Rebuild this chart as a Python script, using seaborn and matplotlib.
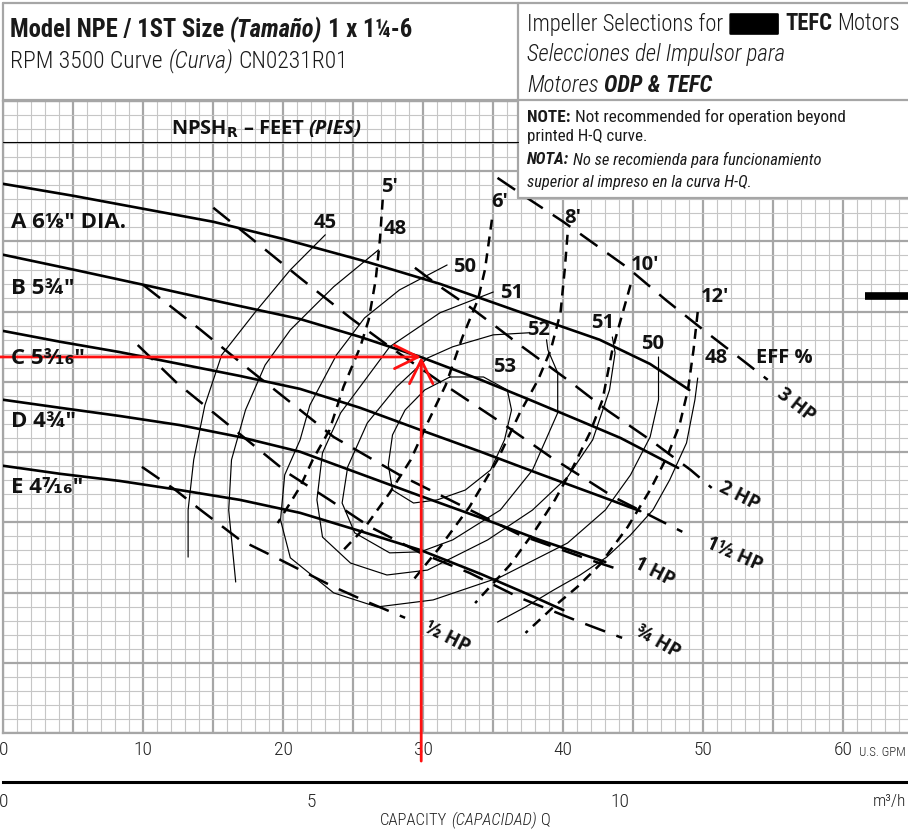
import numpy as np
import pandas as pd
import seaborn as sns
import matplotlib.pyplot as plt
from matplotlib.patches import Rectangle
from matplotlib.lines import Line2D
from matplotlib.ticker import MultipleLocator, FuncFormatter

# -----------------------------------------
# Data (Q in US GPM, H in ft)
# -----------------------------------------
a_q = [0, 5, 10, 15, 20, 25.7, 31.2, 36.9, 42.6, 46.2, 49.0]
a_h = [156.4, 153.0, 149.3, 145.6, 140.7, 134.5, 127.9, 119.9, 112.0, 105.1, 97.7]
b_q = [0, 5.1, 10.3, 15.5, 21.2, 25.5, 29.8, 34.1, 37.6, 41.2, 44.1, 48.2]
b_h = [136.2, 131.9, 127.4, 122.8, 117.9, 112.8, 107.1, 100.6, 94.9, 88.9, 84.0, 75.5]
c_q = [0, 4.1, 8.3, 12.6, 16.9, 21.2, 25.5, 29.8, 34.1, 38.3, 42.6, 45.5]
c_h = [114.5, 111.4, 108.5, 105.1, 101.7, 98.0, 92.6, 86.3, 80.1, 73.8, 67.5, 63.2]
d_q = [0, 4.1, 8.3, 12.6, 16.9, 21.2, 25.5, 29.8, 34.1, 38.3, 43.0]
d_h = [94.9, 92.6, 90.3, 87.7, 84.3, 80.1, 73.8, 67.5, 61.3, 55.0, 48.7]
e_q = [0, 4.1, 8.3, 12.6, 16.9, 21.2, 25.5, 29.8, 34.1, 37.6, 40.0]
e_h = [76.1, 73.8, 71.8, 69.2, 66.4, 62.7, 57.5, 52.1, 45.3, 39.3, 35.0]

# efficiency contours
eff45_q = [23.0, 20.5, 18.0, 15.6, 14.4, 13.6, 13.2, 13.2]
eff45_h = [141.9, 131.9, 119.9, 107.7, 93.4, 77.8, 63.5, 50.1]
eff48l_q = [26.8, 23.6, 20.5, 18.7, 17.3, 16.3, 16.1, 16.6]
eff48l_h = [137.6, 127.1, 114.8, 104.8, 92.0, 77.8, 63.5, 43.0]
eff48r_q = [49.6, 49.4, 48.8, 47.6, 46.4, 44.8, 43.1, 41.2, 39.3, 37.3, 35.3]
eff48r_h = [101.1, 94.9, 82.6, 72.1, 63.5, 56.4, 50.1, 45.0, 40.7, 35.9, 31.6]
eff50_q = [31.7, 28.3, 25.8, 23.8, 21.9, 21.2, 20.1, 19.8, 20.5, 23.6, 26.7, 30.7,
           35.5, 40.3, 43.0, 44.8, 46.2, 46.8, 46.8]
eff50_h = [133.3, 126.2, 118.2, 107.7, 93.4, 83.5, 73.5, 60.7, 49.9, 39.9, 35.9, 37.9,
           44.4, 54.1, 63.5, 73.5, 84.3, 94.9, 107.1]
eff51_q = [35.0, 31.2, 27.6, 26.0, 24.1, 22.8, 22.4, 22.8, 24.8, 27.4, 30.3, 34.6,
           37.8, 40.3, 42.1, 43.3, 43.7, 43.5]
eff51_h = [125.6, 119.7, 110.0, 101.4, 91.2, 79.8, 66.4, 55.8, 48.4, 45.0, 46.4, 55.0,
           63.5, 72.9, 83.5, 97.7, 108.3, 112.8]
eff52_q = [37.6, 35.0, 32.1, 30.3, 28.1, 26.0, 24.6, 24.2, 25.1, 27.6, 29.8, 32.1,
           35.5, 37.8, 39.6, 39.6, 38.9, 38.8]
eff52_h = [114.0, 113.4, 110.0, 106.8, 98.6, 88.3, 75.8, 65.5, 57.0, 51.3, 51.6, 55.0,
           63.5, 74.9, 91.2, 102.6, 109.1, 112.0]
eff53_q = [31.9, 34.3, 36.0, 36.3, 35.8, 34.8, 33.0, 31.0, 29.3, 27.8, 27.5, 27.8,
           28.7, 30.1, 31.9]
eff53_h = [101.4, 101.4, 97.7, 92.0, 83.5, 74.9, 69.2, 66.4, 65.5, 69.2, 76.4, 84.9,
           92.0, 97.7, 101.4]

# NPSHr curves
npsh5_q = [27.1, 26.9, 26.6, 26.1, 25.5, 24.3, 23.3, 22.1, 21.2, 19.6]
npsh5_h = [151.9, 140.5, 129.1, 117.7, 110.0, 98.6, 86.3, 77.8, 70.1, 59.8]
npsh6_q = [34.9, 34.4, 33.9, 32.8, 31.6, 30.3, 29.1, 27.6, 25.8, 24.1]
npsh6_h = [146.2, 131.9, 123.4, 112.8, 99.1, 88.3, 77.8, 68.4, 58.4, 51.3]
npsh8_q = [40.3, 40.1, 39.8, 39.1, 38.2, 36.9, 35.3, 33.3, 31.2, 29.1]
npsh8_h = [141.9, 131.9, 119.7, 109.1, 100.6, 91.2, 77.8, 64.4, 53.0, 42.7]
npsh10_q = [44.8, 44.2, 43.5, 42.8, 41.9, 40.7, 39.4, 38.0, 36.2, 33.7]
npsh10_h = [127.6, 119.1, 109.1, 94.9, 85.5, 75.8, 66.4, 57.8, 47.9, 37.0]
npsh12_q = [49.6, 49.3, 48.9, 48.3, 47.4, 46.2, 44.6, 42.6, 41.0, 39.3, 37.3]
npsh12_h = [119.9, 109.1, 97.7, 87.7, 78.6, 69.2, 58.7, 47.9, 41.6, 35.9, 28.5]

# motor HP lines
hp3_q = [35.3, 37.6, 40.0, 42.6, 44.6, 47.3, 50.0, 52.6, 54.6]
hp3_h = [158.1, 151.9, 145.6, 138.2, 132.5, 123.4, 114.8, 106.8, 100.6]
hp2_q = [29.4, 31.2, 33.3, 35.3, 36.9, 40.3, 43.1, 46.2, 49.1, 50.6]
hp2_h = [132.5, 127.1, 121.4, 115.4, 110.5, 100.6, 92.0, 83.5, 74.9, 69.8]
hp15_q = [15.0, 18.3, 21.2, 24.8, 27.6, 31.2, 35.5, 39.1, 43.6, 48.5]
hp15_h = [149.6, 139.0, 129.6, 118.2, 110.0, 100.0, 88.6, 78.6, 67.2, 57.3]
hp1_q = [10.0, 14.1, 17.6, 21.2, 23.6, 28.3, 32.6, 36.9, 41.9, 44.1]
hp1_h = [127.6, 114.8, 103.4, 92.0, 84.3, 73.5, 65.0, 56.4, 49.3, 46.4]
hp075_q = [9.6, 12.4, 17.4, 20.3, 23.3, 26.2, 29.8, 33.3, 36.9, 41.2, 44.2]
hp075_h = [110.5, 99.7, 83.5, 74.1, 66.4, 58.7, 51.3, 45.6, 38.5, 31.6, 27.1]
hp05_q = [9.9, 12.3, 14.1, 16.9, 19.8, 23.6, 26.2, 28.7]
hp05_h = [75.8, 69.2, 63.5, 55.0, 49.3, 41.6, 37.0, 32.8]

# duty point (red arrows) and stray bar at right edge
duty_q, duty_h = 29.85, 107.1
bar_q, bar_h = [61.55, 65.0], [124.5, 124.5]

GPM_PER_M3H = 4.4029
Q_MAX, H_MAX = 64.62, 180

# label texts with their places on the sheet (pixels from top-left)
impeller_labels = [("A 6⅛\" DIA.", 222), ("B 5¾\"", 288), ("C 5³⁄₁₆\"", 358),
                   ("D 4¾\"", 421), ("E 4⁷⁄₁₆\"", 487)]
eff_labels = [("45", 325, 223), ("48", 395, 229), ("50", 465, 267), ("51", 512, 293),
              ("52", 538, 330), ("53", 505, 367), ("51", 603, 323), ("50", 653, 344),
              ("48", 716, 358), ("EFF %", 784, 358)]
npsh_labels = [("5'", 389, 187), ("6'", 500, 202), ("8'", 573, 218),
               ("10'", 645, 265), ("12'", 715, 297)]
hp_labels = [("3 HP", 796, 405, -38), ("2 HP", 739, 496, -27), ("1½ HP", 734, 555, -24),
             ("1 HP", 654, 572, -27), ("¾ HP", 658, 642, -30), ("½ HP", 447, 638, -27)]

# -----------------------------------------
# Setup
# -----------------------------------------
W, H = 908, 830
sns.set_theme(style="white")
NARROW = ['Roboto Condensed', 'Liberation Sans Narrow', 'Liberation Sans', 'DejaVu Sans']
BOLD = ['Open Sans', 'DejaVu Sans']
plt.rcParams['font.family'] = BOLD

fig = plt.figure(figsize=(W / 100, H / 100), dpi=100)
fig.patch.set_facecolor("white")
ax = fig.add_axes([3.3 / W, 1 - 733 / H, (W - 3.3) / W, 632 / H])
ax.set_facecolor("white")
renderer = fig.canvas.get_renderer()

GRID_MAJ = "#a6a6a6"
GRID_MIN = "#c6c6c6"


def curve(q, h, lw, dash=None):
    ls = "-" if dash is None else (0, dash)
    sns.lineplot(x=q, y=h, ax=ax, sort=False, estimator=None, color="black",
                 linewidth=lw, linestyle=ls, zorder=3)


# H-Q curves
for q, h in [(a_q, a_h), (b_q, b_h), (c_q, c_h), (d_q, d_h), (e_q, e_h)]:
    curve(q, h, 1.9)

# efficiency contours
for q, h in [(eff45_q, eff45_h), (eff48l_q, eff48l_h), (eff48r_q, eff48r_h),
             (eff50_q, eff50_h), (eff51_q, eff51_h), (eff52_q, eff52_h),
             (eff53_q, eff53_h)]:
    curve(q, h, 0.85)

# NPSH curves
for q, h in [(npsh5_q, npsh5_h), (npsh6_q, npsh6_h), (npsh8_q, npsh8_h),
             (npsh10_q, npsh10_h), (npsh12_q, npsh12_h)]:
    curve(q, h, 1.8, dash=(4.0, 2.8))

# HP lines
for q, h in [(hp3_q, hp3_h), (hp2_q, hp2_h), (hp15_q, hp15_h), (hp1_q, hp1_h),
             (hp075_q, hp075_h), (hp05_q, hp05_h)]:
    curve(q, h, 1.8, dash=(8.5, 4.8))

ax.plot(bar_q, bar_h, color="black", lw=5.5, solid_capstyle="butt", zorder=3)

# red selection arrows
arrow = dict(arrowstyle="->,head_length=0.85,head_width=0.42", color="#ff1010",
             lw=2.0, mutation_scale=20, shrinkA=0, shrinkB=0, clip_on=False)
ax.annotate("", xy=(duty_q, duty_h), xytext=(-0.3, duty_h), arrowprops=arrow,
            annotation_clip=False, zorder=6)
ax.annotate("", xy=(duty_q, duty_h), xytext=(duty_q, -8.0), arrowprops=arrow,
            annotation_clip=False, zorder=6)

# grid
ax.set_xlim(0, Q_MAX)
ax.set_ylim(0, H_MAX)
ax.xaxis.set_major_locator(MultipleLocator(5))
ax.xaxis.set_minor_locator(MultipleLocator(1))
ax.yaxis.set_major_locator(MultipleLocator(20))
ax.yaxis.set_minor_locator(MultipleLocator(4))
ax.grid(True, which="minor", color=GRID_MIN, lw=0.8, zorder=0)
ax.grid(True, which="major", color=GRID_MAJ, lw=1.6, zorder=0)
ax.set_axisbelow(True)
ax.tick_params(which="both", length=0)
ax.tick_params(axis="y", labelleft=False)
ax.xaxis.set_major_formatter(
    FuncFormatter(lambda v, p: f"{v:.0f}" if round(v) % 10 == 0 else ""))
ax.tick_params(axis="x", pad=6, labelsize=14, labelcolor="#222222")
for lab in ax.get_xticklabels():
    lab.set_family(NARROW)
    lab.set_weight("light")
ax.set_xlabel("")
ax.set_ylabel("")
for side in ["left", "bottom", "top"]:
    ax.spines[side].set_color(GRID_MAJ)
    ax.spines[side].set_linewidth(1.6)
ax.spines["right"].set_visible(False)

# m3/h scale
ax2 = fig.add_axes([3.3 / W, 1 - 782 / H, (W - 3.3) / W, 0.01])
ax2.set_xlim(0, Q_MAX / GPM_PER_M3H)
ax2.set_ylim(0, 1)
ax2.patch.set_alpha(0)
for side in ["left", "right", "top"]:
    ax2.spines[side].set_visible(False)
ax2.spines["bottom"].set_color("black")
ax2.spines["bottom"].set_linewidth(2.2)
ax2.set_xticks([0, 5, 10])
ax2.set_xticklabels(["0", "5", "10"])
ax2.set_yticks([])
ax2.tick_params(axis="x", direction="in", length=9, width=2.2, color="black",
                pad=8, labelsize=14, labelcolor="#222222")
for lab in ax2.get_xticklabels():
    lab.set_family(NARROW)
    lab.set_weight("light")


# -----------------------------------------
# Header, note box and labels
# -----------------------------------------
def fx(x):
    return x / W


def fy(y):
    return 1 - y / H


fig.add_artist(Rectangle((0, fy(100)), 1, 100 / H, transform=fig.transFigure,
                         fc="white", ec="none", zorder=1))
fig.add_artist(Rectangle((fx(518), fy(198)), 1, 98 / H, transform=fig.transFigure,
                         fc="white", ec="none", zorder=1))
for (x0, y0, x1, y1) in [(3, 3, W, 3), (3, 3, 3, 100), (518, 3, 518, 198),
                         (518, 198, W, 198), (3, 100, W, 100)]:
    fig.add_artist(Line2D([fx(x0), fx(x1)], [fy(y0), fy(y1)], transform=fig.transFigure,
                          color=GRID_MAJ, lw=1.6, zorder=2))
fig.add_artist(Line2D([fx(3), fx(518)], [fy(142), fy(142)], transform=fig.transFigure,
                      color="black", lw=0.8, zorder=2))


def layout(x0, y, parts, size, family, color, keep):
    gap = 0.24 * size * 100 / 72
    x = x0
    made = []
    for i, part in enumerate(parts):
        s, weight, style = part[:3]
        blob = len(part) > 3
        if i > 0 and not s.startswith((".", "-")):
            x += gap
        kw = dict(fontsize=size, family=family, weight=weight, style=style,
                  va="center", ha="left", color=color, zorder=4)
        if blob:
            x += 2
            kw.update(color="black", fontsize=size * 0.9,
                      bbox=dict(boxstyle="round,pad=0.03", fc="black", ec="black"))
        t = fig.text(fx(x), fy(y), s, **kw)
        x += t.get_window_extent(renderer).width + (2 if blob else 0)
        made.append(t)
    if not keep:
        for t in made:
            t.remove()
    return x - x0


def fit_runs(x, y, parts, right, family=NARROW):
    return 10 * (right - x) / layout(x, y, parts, 10, family, "k", False)


def runs(x, y, parts, right, family=NARROW, color="#1a1a1a", max_size=None, size=None):
    if size is None:
        size = fit_runs(x, y, parts, right, family)
    if max_size:
        size = min(size, max_size)
    layout(x, y, parts, size, family, color, True)
    return size


def fit_size(s, width, **kw):
    t = fig.text(0, 0, s, fontsize=10, **kw)
    w = t.get_window_extent(renderer).width
    t.remove()
    return 10 * width / w


runs(10, 30, [("Model NPE / 1ST Size", "bold", "normal"),
              ("(Tamaño)", "bold", "italic"),
              ("1 x 1¼-6", "bold", "normal")], 415, max_size=19)
runs(10, 61, [("RPM 3500 Curve", "light", "normal"),
              ("(Curva)", "light", "italic"),
              ("CN0231R01", "light", "normal")], 350, max_size=17)

runs(527, 24, [("Impeller Selections for", "light", "normal"),
               ("ODP&", "bold", "normal", "blob"),
               ("TEFC", "bold", "normal"),
               ("Motors", "light", "normal")], 903, max_size=17)
sel_parts = [("Selecciones del Impulsor para", "light", "italic")]
mot_parts = [("Motores", "light", "italic"), ("ODP & TEFC", "bold", "italic")]
hdr_size = 0.5 * (fit_runs(527, 55, sel_parts, 762) + fit_runs(527, 85, mot_parts, 728))
runs(527, 55, sel_parts, 762, size=hdr_size)
runs(527, 85, mot_parts, 728, size=hdr_size)

runs(527, 117, [("NOTE:", "bold", "normal"),
                ("Not recommended for operation beyond", "normal", "normal")], 845,
     max_size=12.5)
runs(527, 136, [("printed H-Q curve.", "normal", "normal")], 646, max_size=12.5)
runs(527, 160, [("NOTA:", "bold", "italic"),
                ("No se recomienda para funcionamiento", "normal", "italic")], 823,
     max_size=12.5)
runs(527, 182, [("superior al impreso en la curva H-Q.", "normal", "italic")], 752,
     max_size=12.5)

runs(171, 129, [(r"NPSH$_\mathbf{R}$", "bold", "normal"),
                ("– FEET", "bold", "normal"),
                ("(PIES)", "bold", "italic")], 362, family=BOLD, color="#111111",
     max_size=16)

label_size = min(fit_size("45", 23, weight="bold"), 16)
imp_size = min(fit_size(impeller_labels[0][0], 143, weight="bold"), 16)

for s, y in impeller_labels:
    fig.text(fx(11), fy(y), s, fontsize=imp_size, weight="bold", ha="left",
             va="center", color="#111111", zorder=4)

for s, x, y in eff_labels + npsh_labels:
    fig.text(fx(x), fy(y), s, fontsize=label_size, weight="bold", ha="center",
             va="center", color="#111111", zorder=4)

for s, x, y, rot in hp_labels:
    fig.text(fx(x), fy(y), s, fontsize=label_size * 0.95, weight="bold", ha="center",
             va="center", rotation=rot, rotation_mode="anchor", color="#111111",
             zorder=4)

# axis captions
fig.text(fx(906), fy(752), "U.S. GPM", fontsize=9.2, family=NARROW, weight="light",
         ha="right", va="center", color="#222222")
fig.text(fx(906), fy(801), "m³/h", fontsize=12.5, family=NARROW, weight="light",
         ha="right", va="center", color="#222222")
runs(380, 820, [("CAPACITY", "light", "normal"), ("(CAPACIDAD)", "light", "italic"),
                ("Q", "light", "normal")], 550, color="#222222", max_size=12)

fig.savefig("out.png", dpi=100, facecolor="white")
plt.close(fig)
